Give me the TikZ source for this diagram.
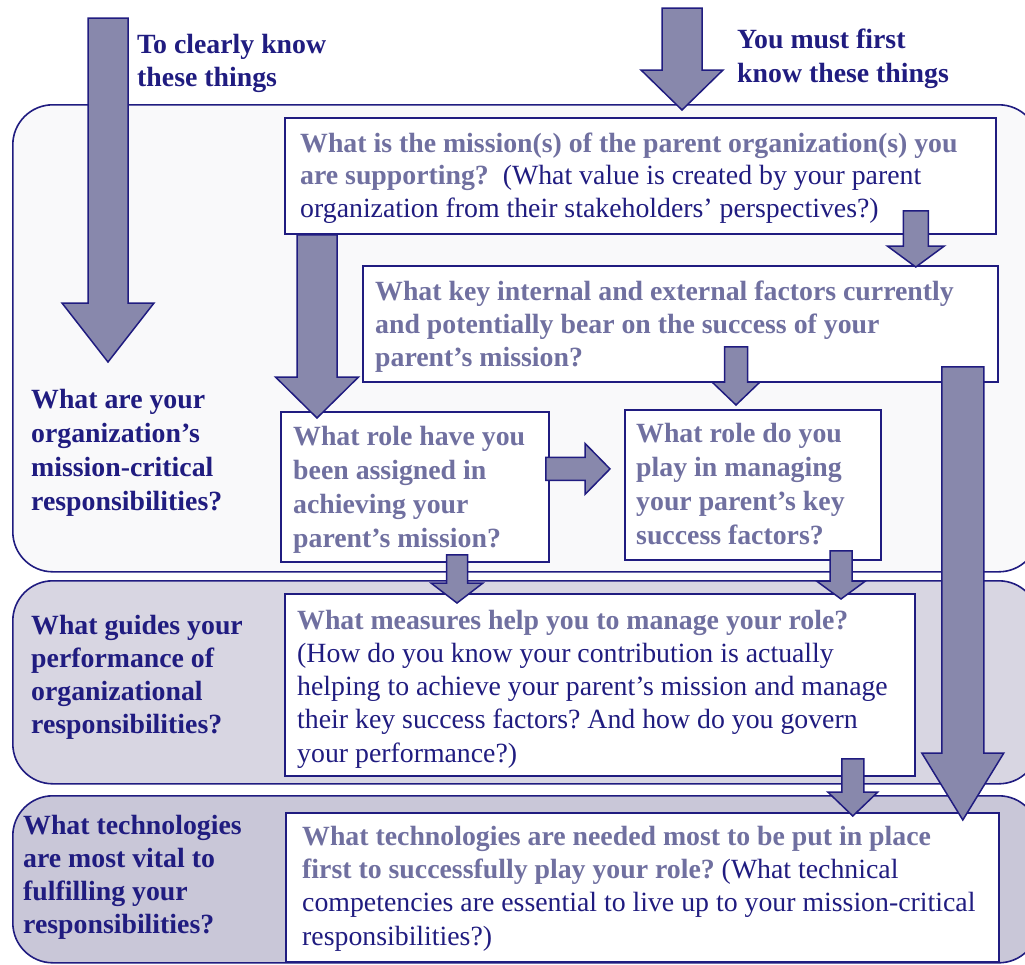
\documentclass[tikz,border=0pt]{standalone}
\usepackage{fontspec}
\setmainfont{Liberation Serif}
\usetikzlibrary{calc}
\frenchspacing

\definecolor{ink}{RGB}{32,28,128}
\definecolor{muted}{RGB}{112,112,160}
\definecolor{arrowfill}{RGB}{136,136,172}
\definecolor{bandone}{RGB}{249,249,250}
\definecolor{bandtwo}{RGB}{216,214,226}
\definecolor{bandthree}{RGB}{201,199,216}

% bold grey question / plain navy remark
\newcommand{\askq}[1]{{\bfseries\color{muted}#1}}
\newcommand{\plainq}[1]{{\mdseries\color{ink}#1}}

% block arrows between two points: tail, tip, shaft half width, head half width, head length
\newcommand{\blkdown}[5]{%
  \filldraw[blockarrow] let \p1=(#1), \p2=(#2) in
    (\x1-#3,\y1) -- (\x1+#3,\y1) -- (\x1+#3,\y2+#5) -- (\x1+#4,\y2+#5)
    -- (\x1,\y2) -- (\x1-#4,\y2+#5) -- (\x1-#3,\y2+#5) -- cycle;}
\newcommand{\blkright}[5]{%
  \filldraw[blockarrow] let \p1=(#1), \p2=(#2) in
    (\x1,\y1+#3) -- (\x2-#5,\y1+#3) -- (\x2-#5,\y1+#4) -- (\x2,\y1)
    -- (\x2-#5,\y1-#4) -- (\x2-#5,\y1-#3) -- (\x1,\y1-#3) -- cycle;}

% text nodes are placed by the baseline of their last line
\tikzset{
  band/.style={draw=ink, line width=1.6pt, rounded corners=40pt, anchor=north west, inner sep=0pt},
  qbox/.style={draw=ink, line width=1.8pt, fill=white, anchor=north west, inner sep=0pt},
  blockarrow/.style={fill=arrowfill, draw=ink, line width=1.5pt, line join=miter},
  txt/.style={anchor=base west, inner sep=0pt, align=left, text=ink},
  fsz/.style={font=\fontsize{27.8}{#1}\selectfont},
}

\begin{document}
\begin{tikzpicture}[x=1pt,y=-1pt]
\useasboundingbox (0,0) rectangle (1025,964);
\clip (0,0) rectangle (1025,964);

% three horizontal bands
\node[band, fill=bandone, minimum width=1026pt, minimum height=467pt] (bandA) at (12,104) {};
\node[band, fill=bandtwo, minimum width=1026pt, minimum height=203pt] (bandB) at (12,580) {};
\node[band, fill=bandthree, minimum width=1026pt, minimum height=167pt] (bandC) at (12,795) {};

% question boxes
\node[qbox, minimum width=711pt, minimum height=116pt] (A) at (284,117) {};
\node[qbox, minimum width=635pt, minimum height=116pt] (B) at (362,265) {};
\node[qbox, minimum width=268pt, minimum height=150pt] (C) at (280,411) {};
\node[qbox, minimum width=256pt, minimum height=150pt] (D) at (624,409) {};
\node[qbox, minimum width=630pt, minimum height=182pt] (E) at (284,593) {};
\node[qbox, minimum width=713pt, minimum height=149pt] (F) at (285,812) {};

% free-standing arrows at the top
\coordinate (leftTop) at (108,18);
\coordinate (leftTip) at (108,362);
\coordinate (rightTop) at (682,8);
\coordinate (rightTip) at (682,110);
\blkdown{leftTop}{leftTip}{20pt}{46pt}{59pt}
\blkdown{rightTop}{rightTip}{20pt}{41pt}{40pt}

% arrows between the boxes
\blkdown{[xshift=33pt]A.south west}{[xshift=37pt,yshift=-7pt]C.north west}{20pt}{41.5pt}{41pt}
\blkdown{[xshift=-81pt,yshift=24pt]A.south east}{[xshift=-83pt,yshift=-2pt]B.north east}{12.5pt}{28.5pt}{21pt}
\blkdown{[xshift=374pt,yshift=36pt]B.south west}{[xshift=112pt,yshift=4pt]D.north west}{11.5pt}{24pt}{23pt}
\blkdown{[xshift=-36pt,yshift=16pt]B.south east}{[xshift=-37pt,yshift=-8pt]F.north east}{21pt}{41pt}{67pt}
\blkright{[xshift=-4pt,yshift=18pt]C.east}{[xshift=-14pt,yshift=16pt]D.west}{11.5pt}{25.5pt}{25pt}
\blkdown{[xshift=177pt,yshift=8pt]C.south west}{[xshift=173pt,yshift=-10pt]E.north west}{10.5pt}{26pt}{20pt}
\blkdown{[xshift=217pt,yshift=10pt]D.south west}{[xshift=557pt,yshift=-6pt]E.north west}{11pt}{24.5pt}{18pt}
\blkdown{[xshift=-63pt,yshift=18pt]E.south east}{[xshift=566pt,yshift=-4pt]F.north west}{11pt}{25pt}{24pt}

% headings
\node[txt, fsz=33pt] (lead) at (137,86) {\bfseries To clearly know\\\bfseries these things};
\node[txt, fsz=34pt] (first) at (737,82) {\bfseries You must first\\\bfseries know these things};

% band labels
\node[txt, fsz=34pt] (labA) at (31,510) {\bfseries What are your\\\bfseries organization’s\\\bfseries mission-critical\\\bfseries responsibilities?};
\node[txt, fsz=33pt] (labB) at (31,733) {\bfseries What guides your\\\bfseries performance of\\\bfseries organizational\\\bfseries responsibilities?};
\node[txt, fsz=33pt] (labC) at (23,933) {\bfseries What technologies\\\bfseries are most vital to\\\bfseries fulfilling your\\\bfseries responsibilities?};

% box texts
\node[txt, fsz=32.5pt] (tA) at (300,217) {\askq{What is the mission(s) of the parent organization(s) you}\\
  \askq{are supporting?}\ \ \plainq{(What value is created by your parent}\\
  \plainq{organization from their stakeholders’ perspectives?)}};
\node[txt, fsz=33pt] (tB) at (375,366) {\askq{What key internal and external factors currently}\\
  \askq{and potentially bear on the success of your}\\
  \askq{parent’s mission?}};
\node[txt, fsz=33.7pt] (tC) at (293,547) {\askq{What role have you}\\\askq{been assigned in}\\
  \askq{achieving your}\\\askq{parent’s mission?}};
\node[txt, fsz=33.7pt] (tD) at (636,544) {\askq{What role do you}\\\askq{play in managing}\\
  \askq{your parent’s key}\\\askq{success factors?}};
\node[txt, fsz=33.2pt] (tE) at (297,762) {\askq{What measures help you to manage your role?}\\
  \plainq{(How do you know your contribution is actually}\\
  \plainq{helping to achieve your parent’s mission and manage}\\
  \plainq{their key success factors? And how do you govern}\\
  \plainq{your performance?)}};
\node[txt, fsz=33.3pt] (tF) at (302,945) {\askq{What technologies are needed most to be put in place}\\
  \askq{first to successfully play your role?} \plainq{(What technical}\\
  \plainq{competencies are essential to live up to your mission-critical}\\
  \plainq{responsibilities?)}};
\end{tikzpicture}
\end{document}
